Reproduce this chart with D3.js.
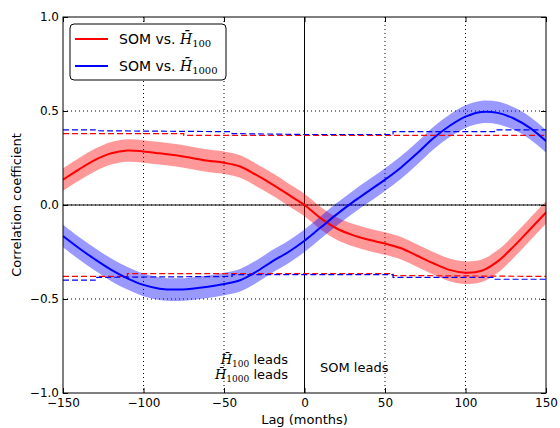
<!DOCTYPE html>
<meta charset="utf-8">
<style>
body { margin: 0; background: #fff; }
text { font-family: "DejaVu Sans", sans-serif; }
</style>
<body>
<svg width="560" height="428"></svg>
<script src="https://d3js.org/d3.v7.min.js"></script>
<script>
var svg = d3.select("svg");

// lags in months, one value every 10 months
var lags = d3.range(-150, 151, 10);

// SOM vs H100
var corr100 = [0.135, 0.19, 0.24, 0.275, 0.29, 0.285, 0.275, 0.265, 0.25, 0.235,
  0.225, 0.205, 0.16, 0.11, 0.055, 0.0, -0.07, -0.125, -0.16, -0.185,
  -0.205, -0.23, -0.27, -0.31, -0.345, -0.36, -0.35, -0.30, -0.22, -0.13, -0.04];

// SOM vs H1000
var corr1000 = [-0.165, -0.23, -0.29, -0.345, -0.39, -0.425, -0.445, -0.45, -0.445, -0.435,
  -0.42, -0.40, -0.355, -0.30, -0.25, -0.19, -0.12, -0.05, 0.015, 0.075,
  0.135, 0.2, 0.275, 0.355, 0.42, 0.47, 0.495, 0.49, 0.46, 0.41, 0.34];

// significance levels (step lines), [lag, value]
var sig100Up = [[-150, 0.38], [-75, 0.38], [-75, 0.37], [150, 0.37]];
var sig100Lo = [[-150, -0.38], [-110, -0.38], [-110, -0.365], [55, -0.365], [55, -0.375], [150, -0.38]];
var sig1000Up = [[-150, 0.40], [-130, 0.40], [-130, 0.395], [-45, 0.39], [-45, 0.38], [0, 0.375], [55, 0.375], [55, 0.39], [118, 0.39], [118, 0.40], [150, 0.40]];
var sig1000Lo = [[-150, -0.40], [-130, -0.40], [-130, -0.385], [-45, -0.38], [-45, -0.37], [55, -0.37], [55, -0.385], [118, -0.385], [118, -0.395], [150, -0.395]];

var xTicks = [-150, -100, -50, 0, 50, 100, 150];
var yTicks = [-1.0, -0.5, 0.0, 0.5, 1.0];
var bandHalf = 0.06;

var pl = 63, pr = 546, pt = 17, pb = 393;

var x = d3.scaleLinear().domain([-150, 150]).range([pl, pr]);
var y = d3.scaleLinear().domain([-1, 1]).range([pb, pt]);

var fmtY = function(d) { return d3.format(".1f")(d).replace("-", "\u2212").replace("\u22120.0", "0.0"); };
var fmtX = function(d) { return String(d).replace("-", "\u2212"); };

svg.append("clipPath").attr("id", "clip")
  .append("rect").attr("x", pl).attr("y", pt)
  .attr("width", pr - pl).attr("height", pb - pt);

// dotted grid
var grid = svg.append("g").attr("stroke", "#000").attr("stroke-dasharray", "1,3").attr("stroke-width", 1);
grid.selectAll(".gx").data(xTicks.slice(1, -1)).enter().append("line")
  .attr("x1", d => x(d)).attr("x2", d => x(d)).attr("y1", pt).attr("y2", pb);
grid.selectAll(".gy").data(yTicks.slice(1, -1)).enter().append("line")
  .attr("x1", pl).attr("x2", pr).attr("y1", d => y(d)).attr("y2", d => y(d));

// zero lines
svg.append("line").attr("x1", x(0)).attr("x2", x(0)).attr("y1", pt).attr("y2", pb)
  .attr("stroke", "#000").attr("stroke-width", 1);
svg.append("line").attr("x1", pl).attr("x2", pr).attr("y1", y(0)).attr("y2", y(0))
  .attr("stroke", "#000").attr("stroke-width", 1);

var plot = svg.append("g").attr("clip-path", "url(#clip)");

var series = [
  {vals: corr100, color: "red"},
  {vals: corr1000, color: "blue"}
];

var line = d3.line().x(d => x(d[0])).y(d => y(d[1])).curve(d3.curveCatmullRom);
var area = d3.area().x(d => x(d[0])).y0(d => y(d[1] - bandHalf)).y1(d => y(d[1] + bandHalf))
  .curve(d3.curveCatmullRom);

// shaded bands
series.forEach(function(s) {
  var pts = lags.map((l, i) => [l, s.vals[i]]);
  plot.append("path").datum(pts).attr("d", area)
    .attr("fill", s.color).attr("fill-opacity", 0.4).attr("stroke", "none");
});

// significance dashed lines
var step = d3.line().x(d => x(d[0])).y(d => y(d[1]));
[[sig100Up, "red"], [sig100Lo, "red"], [sig1000Up, "blue"], [sig1000Lo, "blue"]].forEach(function(p) {
  plot.append("path").datum(p[0]).attr("d", step)
    .attr("fill", "none").attr("stroke", p[1]).attr("stroke-width", 1.2)
    .attr("stroke-dasharray", "6,3");
});

// main lines
series.forEach(function(s) {
  var pts = lags.map((l, i) => [l, s.vals[i]]);
  plot.append("path").datum(pts).attr("d", line)
    .attr("fill", "none").attr("stroke", s.color).attr("stroke-width", 2);
});

// axes with inward ticks
var ax = svg.append("g");
ax.append("g").attr("transform", "translate(0," + pb + ")")
  .call(d3.axisBottom(x).tickValues(xTicks).tickFormat(fmtX).tickSize(-5).tickPadding(5));
ax.append("g").attr("transform", "translate(0," + pt + ")")
  .call(d3.axisTop(x).tickValues(xTicks).tickFormat("").tickSize(-5));
ax.append("g").attr("transform", "translate(" + pl + ",0)")
  .call(d3.axisLeft(y).tickValues(yTicks).tickFormat(fmtY).tickSize(-5).tickPadding(4));
ax.append("g").attr("transform", "translate(" + pr + ",0)")
  .call(d3.axisRight(y).tickValues(yTicks).tickFormat("").tickSize(-5));
ax.selectAll(".domain").remove();
ax.selectAll("text").attr("font-family", "DejaVu Sans").attr("font-size", 12).attr("fill", "#000");
ax.selectAll("line").attr("stroke", "#000");

svg.append("rect").attr("x", pl).attr("y", pt).attr("width", pr - pl).attr("height", pb - pt)
  .attr("fill", "none").attr("stroke", "#000").attr("stroke-width", 1);

// axis labels
svg.append("text").attr("x", (pl + pr) / 2).attr("y", 424).attr("text-anchor", "middle")
  .attr("font-size", 13).text("Lag (months)");
svg.append("text").attr("transform", "translate(21," + y(0) + ") rotate(-90)")
  .attr("text-anchor", "middle").attr("font-size", 13).text("Correlation coefficient");

// H-bar with subscript
function hbar(t, sub, size) {
  t.append("tspan").style("font-family", "DejaVu Serif").style("font-style", "italic").text("H\u0304");
  t.append("tspan").style("font-family", "DejaVu Serif").attr("font-size", size).attr("dy", 3).text(sub);
}

// annotations
var a1 = svg.append("text").attr("x", 288).attr("y", 364).attr("text-anchor", "end").attr("font-size", 13);
hbar(a1, "100", 9); a1.append("tspan").attr("dy", -3).text(" leads");
var a2 = svg.append("text").attr("x", 288).attr("y", 379).attr("text-anchor", "end").attr("font-size", 13);
hbar(a2, "1000", 9); a2.append("tspan").attr("dy", -3).text(" leads");
svg.append("text").attr("x", 320).attr("y", 372).attr("font-size", 13).text("SOM leads");

// legend
var legendItems = [{sub: "100", color: "red"}, {sub: "1000", color: "blue"}];
var lg = svg.append("g");
lg.append("rect").attr("x", 70).attr("y", 24).attr("width", 156).attr("height", 56).attr("rx", 4)
  .attr("fill", "#fff").attr("stroke", "#000").attr("stroke-width", 1);
legendItems.forEach(function(d, i) {
  var yy = 39 + i * 27;
  lg.append("line").attr("x1", 75).attr("x2", 108).attr("y1", yy).attr("y2", yy)
    .attr("stroke", d.color).attr("stroke-width", 2);
  var t = lg.append("text").attr("x", 119).attr("y", yy + 5).attr("font-size", 14);
  t.append("tspan").text("SOM vs. ");
  hbar(t, d.sub, 10);
});
</script>
</body>
